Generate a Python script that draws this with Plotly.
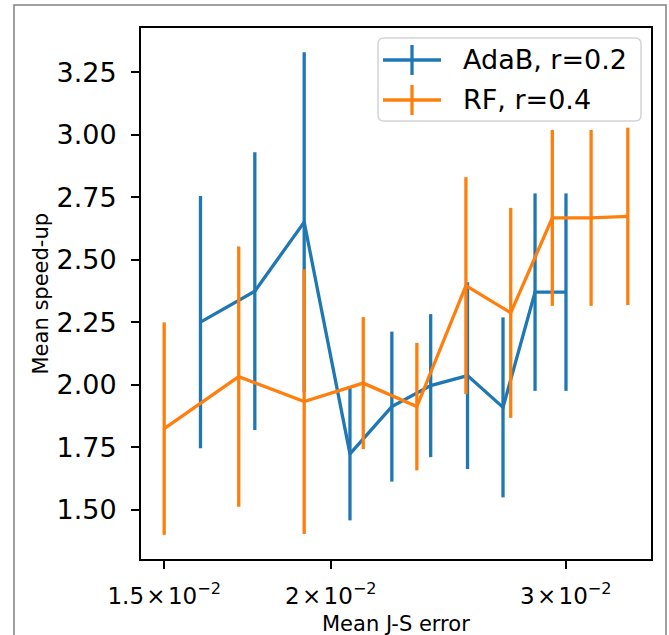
import math
import plotly.graph_objects as go

# Mean J-S error (x) and mean speed-up (y) with symmetric std errors
ada_x = [0.01597, 0.01754, 0.01910, 0.02067, 0.02222, 0.02376, 0.02532, 0.02692, 0.02845, 0.03001]
ada_y = [2.250, 2.374, 2.650, 1.723, 1.912, 1.996, 2.036, 1.909, 2.370, 2.370]
ada_err = [0.505, 0.556, 0.680, 0.266, 0.300, 0.286, 0.374, 0.360, 0.395, 0.395]

rf_x = [0.01500, 0.01706, 0.01910, 0.02115, 0.02320, 0.02525, 0.02728, 0.02931, 0.03134, 0.03339]
rf_y = [1.824, 2.032, 1.932, 2.006, 1.912, 2.396, 2.287, 2.667, 2.667, 2.673]
rf_err = [0.425, 0.521, 0.530, 0.264, 0.255, 0.434, 0.420, 0.352, 0.352, 0.355]

series_names = ["AdaB, r=0.2", "RF, r=0.4"]
series_colors = ["#1f77b4", "#ff7f0e"]

x_tick_vals = [0.015, 0.02, 0.03]
x_tick_text = ["1.5\u200a×\u200a10<sup>−2</sup>", "2\u200a×\u200a10<sup>−2</sup>", "3\u200a×\u200a10<sup>−2</sup>"]
y_tick_vals = [1.50, 1.75, 2.00, 2.25, 2.50, 2.75, 3.00, 3.25]

FONT = "DejaVu Sans"
W, H = 669, 635
ML, MR, MT, MB = 141, 18, 28, 76
PW, PH = W - ML - MR, H - MT - MB

# axis limits with 5% padding, like matplotlib autoscaling
all_x = ada_x + rf_x
lx0, lx1 = math.log10(min(all_x)), math.log10(max(all_x))
pad_x = 0.05 * (lx1 - lx0)
x_range = [lx0 - pad_x, lx1 + pad_x]
lows = [v - e for v, e in zip(ada_y + rf_y, ada_err + rf_err)]
highs = [v + e for v, e in zip(ada_y + rf_y, ada_err + rf_err)]
pad_y = 0.05 * (max(highs) - min(lows))
y_range = [min(lows) - pad_y, max(highs) + pad_y]


def px_x(p):
    return (p - ML) / PW


def px_y(p):
    return (H - MB - p) / PH


fig = go.Figure()
for xs, ys, es, name, col in [
    (ada_x, ada_y, ada_err, series_names[0], series_colors[0]),
    (rf_x, rf_y, rf_err, series_names[1], series_colors[1]),
]:
    fig.add_trace(go.Scatter(
        x=xs, y=ys, name=name, mode="lines",
        line=dict(color=col, width=3.3),
        error_y=dict(type="data", array=es, visible=True, width=0,
                     thickness=3.3, color=col),
        showlegend=False,
    ))

shapes = []
annotations = []

# outer frame around the figure
shapes.append(dict(type="rect", xref="paper", yref="paper",
                   x0=px_x(14), x1=px_x(666), y0=px_y(5), y1=px_y(660),
                   line=dict(color="#808080", width=1.5), fillcolor="rgba(0,0,0,0)",
                   layer="above"))

# legend box with rounded corners
bx0, bx1, by0, by1 = 378, 641, 38, 121
r = 6
rx, ry = r / PW, r / PH
X0, X1, Y0, Y1 = px_x(bx0), px_x(bx1), px_y(by1), px_y(by0)
path = (f"M {X0 + rx},{Y1} L {X1 - rx},{Y1} Q {X1},{Y1} {X1},{Y1 - ry} "
        f"L {X1},{Y0 + ry} Q {X1},{Y0} {X1 - rx},{Y0} L {X0 + rx},{Y0} "
        f"Q {X0},{Y0} {X0},{Y0 + ry} L {X0},{Y1 - ry} Q {X0},{Y1} {X0 + rx},{Y1} Z")
shapes.append(dict(type="path", xref="paper", yref="paper", path=path,
                   line=dict(color="#d4d4d4", width=1.5),
                   fillcolor="rgba(255,255,255,0.85)", layer="above"))

for i, (name, col) in enumerate(zip(series_names, series_colors)):
    cy = 60 + i * 40
    shapes.append(dict(type="line", xref="paper", yref="paper",
                       x0=px_x(383), x1=px_x(441), y0=px_y(cy), y1=px_y(cy),
                       line=dict(color=col, width=3.3), layer="above"))
    shapes.append(dict(type="line", xref="paper", yref="paper",
                       x0=px_x(412), x1=px_x(412), y0=px_y(cy - 15), y1=px_y(cy + 15),
                       line=dict(color=col, width=3.3), layer="above"))
    annotations.append(dict(text=name, xref="paper", yref="paper",
                            x=px_x(461), y=px_y(cy), xanchor="left", yanchor="middle",
                            showarrow=False, font=dict(family=FONT, size=27, color="black")))

# axis titles
annotations.append(dict(text="Mean J-S error", xref="paper", yref="paper",
                        x=0.5, y=px_y(624), xanchor="center", yanchor="middle",
                        showarrow=False, font=dict(family=FONT, size=21, color="black")))
annotations.append(dict(text="Mean speed-up", xref="paper", yref="paper",
                        x=px_x(40), y=0.5, xanchor="center", yanchor="middle", textangle=-90,
                        showarrow=False, font=dict(family=FONT, size=21, color="black")))

fig.update_layout(
    width=W, height=H, autosize=False,
    margin=dict(l=ML, r=MR, t=MT, b=MB),
    paper_bgcolor="white", plot_bgcolor="white",
    font=dict(family=FONT, color="black"),
    shapes=shapes, annotations=annotations,
    xaxis=dict(type="log", range=x_range, tickvals=x_tick_vals, ticktext=x_tick_text,
               ticks="outside", ticklen=8, tickwidth=2, tickcolor="black",
               ticklabelstandoff=7,
               showline=True, linecolor="black", linewidth=2, mirror=True,
               showgrid=False, zeroline=False,
               tickfont=dict(family=FONT, size=23, color="black")),
    yaxis=dict(range=y_range, tickvals=y_tick_vals,
               ticktext=[f"{v:.2f}" for v in y_tick_vals],
               ticks="outside", ticklen=8, tickwidth=2, tickcolor="black",
               ticklabelstandoff=9,
               showline=True, linecolor="black", linewidth=2, mirror=True,
               showgrid=False, zeroline=False,
               tickfont=dict(family=FONT, size=27, color="black")),
)

fig.write_html("out.html")
